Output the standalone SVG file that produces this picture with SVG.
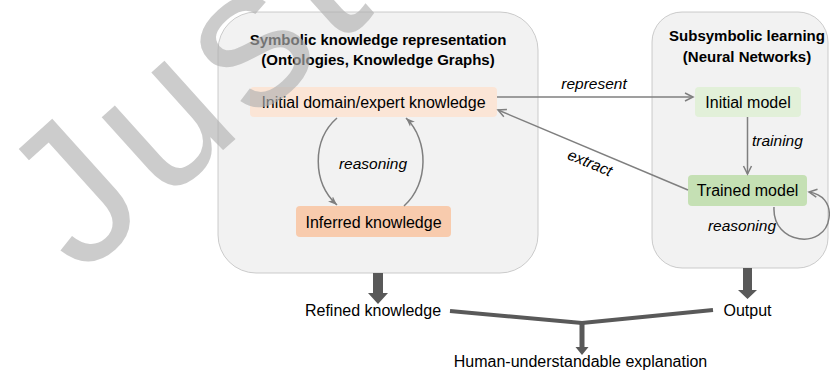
<svg xmlns="http://www.w3.org/2000/svg" width="830" height="370" viewBox="0 0 830 370">
<style>
text{font-family:"Liberation Sans",Arial,sans-serif;fill:#000}
.title{font-size:15px;font-weight:bold;text-anchor:middle}
.lbl{font-size:16px;text-anchor:middle}
.it{font-size:15.5px;font-style:italic}
.panel{fill:#f2f2f2;stroke:#bfbfbf;stroke-width:0.8}
.thin{fill:none;stroke:#7f7f7f;stroke-width:1.5}
.thick{fill:#595959}
.wm{font-size:200px;fill:#b0b0b0;fill-opacity:0.65;letter-spacing:10px}
</style>
<defs>
<marker id="open" markerUnits="userSpaceOnUse" markerWidth="12" markerHeight="12" refX="9" refY="5" orient="auto">
<path d="M1,1 L9,5 L1,9" fill="none" stroke="#7f7f7f" stroke-width="1.5"/>
</marker>
<marker id="solid" markerUnits="userSpaceOnUse" markerWidth="12" markerHeight="12" refX="9" refY="4" orient="auto">
<path d="M0,0.5 L9,4 L0,7.5 L2.5,4 z" fill="#7f7f7f"/>
</marker>
</defs>

<g id="panel-symbolic">
<rect class="panel" x="218" y="12" width="320" height="261" rx="38"/>
<text class="title" x="378" y="45">Symbolic knowledge representation</text>
<text class="title" x="378" y="65">(Ontologies, Knowledge Graphs)</text>
</g>
<g id="panel-subsymbolic">
<rect class="panel" x="652" y="12" width="176" height="256" rx="30"/>
<text class="title" x="747" y="41">Subsymbolic learning</text>
<text class="title" x="747" y="62">(Neural Networks)</text>
</g>

<g id="node-initial-knowledge">
<rect x="250" y="87" width="247" height="30" rx="4" fill="#fbe5d6"/>
<text class="lbl" x="373.5" y="108">Initial domain/expert knowledge</text>
</g>
<g id="node-inferred">
<rect x="296" y="206" width="155" height="31" rx="4" fill="#f8cbad"/>
<text class="lbl" x="373.5" y="228">Inferred knowledge</text>
</g>
<g id="node-initial-model">
<rect x="695" y="87" width="106" height="30" rx="4" fill="#e2f0d9"/>
<text class="lbl" x="748" y="108">Initial model</text>
</g>
<g id="node-trained-model">
<rect x="688" y="175" width="119" height="31" rx="4" fill="#c5e0b4"/>
<text class="lbl" x="747.5" y="196">Trained model</text>
</g>
<g id="node-refined">
<text class="lbl" x="373" y="316">Refined knowledge</text>
</g>
<g id="node-output">
<text class="lbl" x="747.5" y="316">Output</text>
</g>
<g id="node-explanation">
<text class="lbl" x="580.5" y="367">Human-understandable explanation</text>
</g>

<g id="connectors">
<path class="thin" d="M337,118 C312,140 312,182 337,205" marker-end="url(#solid)"/>
<path class="thin" d="M404,206 C429,184 429,140 406,118" marker-end="url(#solid)"/>
<text class="it" x="373" y="169" text-anchor="middle">reasoning</text>
<path class="thin" d="M497,97 L693,97" marker-end="url(#open)"/>
<text class="it" x="594" y="89" text-anchor="middle">represent</text>
<path class="thin" d="M688,190 L498,110" marker-end="url(#open)"/>
<text class="it" transform="translate(590,163) rotate(22.7)" x="0" y="5" text-anchor="middle">extract</text>
<path class="thin" d="M747.5,117 L747.5,174" marker-end="url(#open)"/>
<text class="it" x="752" y="146">training</text>
<path class="thin" d="M774,207 C772,245 825,250 829,218 C831,203 822,194 809,192" marker-end="url(#open)"/>
<text class="it" x="742" y="231" text-anchor="middle">reasoning</text>
<polygon class="thick" points="373,273 383,273 383,293 388,293 378,304 368,293 373,293"/>
<polygon class="thick" points="743,268 752,268 752,290 757,290 747.5,299 738,290 743,290"/>
<polyline points="450,311 582,323 713,310" fill="none" stroke="#595959" stroke-width="4"/>
<polygon class="thick" points="579.5,323 584.5,323 584.5,347 588.5,347 582,355 575.5,347 579.5,347"/>
</g>

<text class="wm" transform="translate(81,278) rotate(-42)">Just</text>
</svg>
